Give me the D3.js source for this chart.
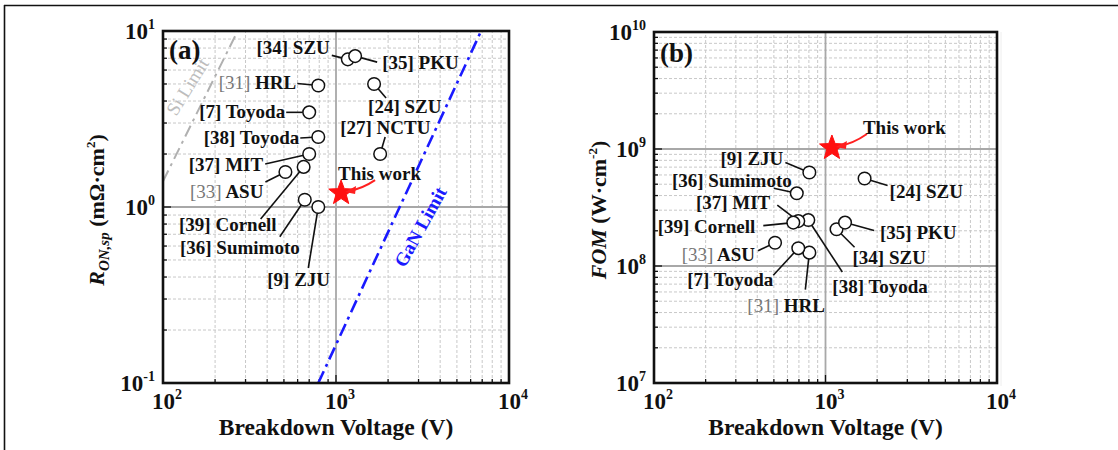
<!DOCTYPE html>
<html>
<head>
<meta charset="utf-8">
<script src="https://cdn.jsdelivr.net/npm/d3@7"></script>
<style>
  html, body { margin: 0; padding: 0; background: #fff; }
  svg { display: block; font-family: "Liberation Serif", "Times New Roman", serif; }
</style>
</head>
<body>
<svg id="chart" width="1118" height="450"></svg>
<script>
// ---- data: panel (a) specific on-resistance vs breakdown voltage ----
const refNumA = ["[34]", "[35]", "[31]", "[24]", "[7]", "[38]", "[27]", "[37]", "[33]", "[39]", "[36]", "[9]"];
const instA   = ["SZU", "PKU", "HRL", "SZU", "Toyoda", "Toyoda", "NCTU", "MIT", "ASU", "Cornell", "Sumimoto", "ZJU"];
const bvA     = [1170, 1290, 790, 1660, 700, 790, 1800, 700, 510, 650, 660, 790];
const ronA    = [6.9, 7.2, 4.9, 5.0, 3.45, 2.5, 2.0, 2.0, 1.58, 1.69, 1.1, 1.0];

// ---- data: panel (b) figure of merit vs breakdown voltage ----
const refNumB = ["[34]", "[35]", "[31]", "[24]", "[7]", "[38]", "[37]", "[33]", "[39]", "[36]", "[9]"];
const instB   = ["SZU", "PKU", "HRL", "SZU", "Toyoda", "Toyoda", "MIT", "ASU", "Cornell", "Sumimoto", "ZJU"];
const bvB     = [1160, 1300, 805, 1690, 694, 794, 694, 508, 649, 680, 805];
const fomB    = [2.06e8, 2.35e8, 1.30e8, 5.6e8, 1.42e8, 2.47e8, 2.42e8, 1.58e8, 2.35e8, 4.18e8, 6.3e8];

// ---- this work ----
const thisBV  = [1070, 1090];
const thisRon = [1.2];
const thisFOM = [1.02e9];

// ---- material limit lines (panel a) ----
const siLimitBV  = [100, 270];
const siLimitRon = [1.4, 10];
const ganLimitBV  = [790, 6900];
const ganLimitRon = [0.1, 10];

// ---- axis tick labels ----
const xTickExp  = [2, 3, 4];
const yTickExpA = [-1, 0, 1];
const yTickExpB = [7, 8, 9, 10];

// dimmed reference numbers
const dimRefs = ["[31]", "[33]"];

// label placement relative to each marker: text offset, anchor, leader start offset
const layoutA = [
  {tx: -18, ty: -11, a: "end",   lx: -16, ly: -4},
  {tx: 27,  ty: 7,   a: "start", lx: 22,  ly: 6},
  {tx: -22, ty: -3,  a: "end",   lx: -21, ly: -2},
  {tx: -6,  ty: 23,  a: "start", lx: 12,  ly: 14},
  {tx: -24, ty: 0,   a: "end",   lx: -23, ly: 0},
  {tx: -19, ty: 1,   a: "end",   lx: -18, ly: 1},
  {tx: -40, ty: -26, a: "start", lx: 5,   ly: -17},
  {tx: -46, ty: 11,  a: "end",   lx: -44, ly: 10},
  {tx: -22, ty: 20,  a: "end",   lx: -20, ly: 10},
  {tx: -27, ty: 58,  a: "end",   lx: -43, ly: 52},
  {tx: -5,  ty: 48,  a: "end",   lx: -25, ly: 37},
  {tx: -51, ty: 73,  a: "start", lx: -10, ly: 61}
];
const layoutB = [
  {tx: 16,  ty: 29,  a: "start", lx: 18,  ly: 18},
  {tx: 35,  ty: 10,  a: "start", lx: 29,  ly: 8},
  {tx: -62, ty: 53,  a: "start", lx: -4,  ly: 37},
  {tx: 25,  ty: 14,  a: "start", lx: 23,  ly: 7},
  {tx: -25, ty: 32,  a: "end",   lx: -25, ly: 27},
  {tx: 24,  ty: 67,  a: "start", lx: 34,  ly: 52},
  {tx: -28, ty: -18, a: "end",   lx: -21, ly: -16},
  {tx: -20, ty: 12,  a: "end",   lx: -17, ly: 8},
  {tx: -38, ty: 4,   a: "end",   lx: -30, ly: 3},
  {tx: -5,  ty: -12, a: "end",   lx: -23, ly: -5},
  {tx: -26, ty: -13, a: "end",   lx: -24, ly: -10}
];

const svg = d3.select("#chart");

// outer frame of the figure
svg.append("line").attr("x1", 4).attr("x2", 1118).attr("y1", 5.5).attr("y2", 5.5)
  .attr("stroke", "#111").attr("stroke-width", 1.6);
svg.append("line").attr("x1", 4.5).attr("x2", 4.5).attr("y1", 5).attr("y2", 450)
  .attr("stroke", "#111").attr("stroke-width", 1.6);
svg.append("line").attr("x1", 1001).attr("x2", 1001).attr("y1", 32).attr("y2", 386)
  .attr("stroke", "#eee").attr("stroke-width", 1);

function logTicks(lo, hi) {
  const out = [];
  for (let e = lo; e < hi; e++) for (let m = 2; m <= 9; m++) out.push(m * Math.pow(10, e));
  return out;
}

function powLabel(g, x, y, exp, anchor) {
  const t = g.append("text").attr("x", x).attr("y", y)
    .attr("text-anchor", anchor).attr("font-weight", "bold").attr("font-size", 23).attr("fill", "#111");
  t.append("tspan").text("10");
  t.append("tspan").attr("font-size", 14).attr("dy", -10).text(String(exp));
}

function panel(opts) {
  const {x, y, id, xExp, yExp, yLo, yHi} = opts;
  const g = svg.append("g");
  const [x0, x1] = x.range();
  const [y0, y1] = y.range();

  g.append("clipPath").attr("id", id).append("rect")
    .attr("x", x0).attr("y", y1).attr("width", x1 - x0).attr("height", y0 - y1);

  // minor grid
  const minorX = logTicks(2, 4);
  const minorY = logTicks(yLo, yHi);
  g.append("g").selectAll("line").data(minorX).join("line")
    .attr("x1", d => x(d)).attr("x2", d => x(d)).attr("y1", y0).attr("y2", y1)
    .attr("stroke", "#c8c8c8").attr("stroke-width", 1).attr("stroke-dasharray", "3,2");
  g.append("g").selectAll("line").data(minorY).join("line")
    .attr("x1", x0).attr("x2", x1).attr("y1", d => y(d)).attr("y2", d => y(d))
    .attr("stroke", "#c8c8c8").attr("stroke-width", 1).attr("stroke-dasharray", "3,2");

  // major grid
  const majX = xExp.slice(1, -1).map(e => Math.pow(10, e));
  const majY = yExp.slice(1, -1).map(e => Math.pow(10, e));
  g.append("g").selectAll("line").data(majX).join("line")
    .attr("x1", d => x(d)).attr("x2", d => x(d)).attr("y1", y0).attr("y2", y1)
    .attr("stroke", "#a8a8a8").attr("stroke-width", 1.8);
  g.append("g").selectAll("line").data(majY).join("line")
    .attr("x1", x0).attr("x2", x1).attr("y1", d => y(d)).attr("y2", d => y(d))
    .attr("stroke", "#a8a8a8").attr("stroke-width", 1.8);

  // inward ticks
  const tk = g.append("g").attr("stroke", "#111").attr("stroke-width", 1.3);
  tk.selectAll(".ty").data(minorY).join("line")
    .attr("x1", x0).attr("x2", x0 + 4).attr("y1", d => y(d)).attr("y2", d => y(d));
  tk.selectAll(".tx").data(minorX).join("line")
    .attr("y1", y0).attr("y2", y0 - 4).attr("x1", d => x(d)).attr("x2", d => x(d));
  tk.selectAll(".tyM").data(majY).join("line")
    .attr("x1", x0).attr("x2", x0 + 8).attr("y1", d => y(d)).attr("y2", d => y(d));
  tk.selectAll(".txM").data(majX).join("line")
    .attr("y1", y0).attr("y2", y0 - 8).attr("x1", d => x(d)).attr("x2", d => x(d));

  // tick labels
  xExp.forEach(e => powLabel(g, x(Math.pow(10, e)) + 4, y0 + 26, e, "middle"));
  yExp.forEach(e => powLabel(g, x0 - 8, y(Math.pow(10, e)) + 8, e, "end"));

  // x title
  g.append("text").attr("x", (x0 + x1) / 2).attr("y", y0 + 52)
    .attr("text-anchor", "middle").attr("font-weight", "bold").attr("font-size", 23.5)
    .attr("fill", "#111").text("Breakdown Voltage (V)");

  return g;
}

function frame(g, x, y) {
  const [x0, x1] = x.range();
  const [y0, y1] = y.range();
  g.append("rect").attr("x", x0).attr("y", y1).attr("width", x1 - x0).attr("height", y0 - y1)
    .attr("fill", "none").attr("stroke", "#111").attr("stroke-width", 2.6);
}

function refLabels(g, x, y, bv, val, nums, names, layout) {
  const pts = bv.map((b, i) => ({px: x(b), py: y(val[i]), num: nums[i], name: names[i], L: layout[i]}));
  g.append("g").selectAll("line").data(pts).join("line")
    .attr("x1", d => d.px + d.L.lx).attr("y1", d => d.py + d.L.ly)
    .attr("x2", d => d.px).attr("y2", d => d.py)
    .attr("stroke", "#111").attr("stroke-width", 1.6);
  g.append("g").selectAll("circle").data(pts).join("circle")
    .attr("cx", d => d.px).attr("cy", d => d.py).attr("r", 6.3)
    .attr("fill", "#fff").attr("stroke", "#111").attr("stroke-width", 1.5);
  const t = g.append("g").selectAll("text").data(pts).join("text")
    .attr("x", d => d.px + d.L.tx).attr("y", d => d.py + d.L.ty + 6)
    .attr("text-anchor", d => d.L.a).attr("font-size", 19).attr("font-weight", "bold").attr("fill", "#111");
  t.append("tspan")
    .attr("fill", d => dimRefs.includes(d.num) ? "#777" : "#111")
    .attr("font-weight", d => dimRefs.includes(d.num) ? "normal" : "bold")
    .text(d => d.num);
  t.append("tspan").text(d => " " + d.name);
}

function star(g, cx, cy, R) {
  const pts = [];
  for (let i = 0; i < 10; i++) {
    const r = i % 2 === 0 ? R : R * 0.42;
    const a = -Math.PI / 2 + i * Math.PI / 5;
    pts.push([cx + r * Math.cos(a), cy + r * Math.sin(a)]);
  }
  g.append("path").attr("d", d3.line()(pts) + "Z").attr("fill", "#ff1010").attr("stroke", "#ff1010")
    .attr("stroke-width", 1);
}

function thisWork(g, px, py, tx, ty, ax, ay) {
  star(g, px, py, 13);
  // tapered pointer from the label toward the star
  const p = d3.path();
  p.moveTo(px + ax, py + ay);
  p.quadraticCurveTo(px + ax * 0.6, py + ay * 0.3, px + 7, py - 2);
  g.append("path").attr("d", p.toString()).attr("fill", "none")
    .attr("stroke", "#ff2020").attr("stroke-width", 2);
  g.append("path")
    .attr("d", `M${px + 4},${py - 1} L${px + 15},${py - 7} L${px + 14},${py + 1} Z`)
    .attr("fill", "#ff2020");
  g.append("text").attr("x", px + tx).attr("y", py + ty + 7)
    .attr("font-size", 19).attr("font-weight", "bold").attr("fill", "#111").text("This work");
}

// ================= panel (a) =================
const xA = d3.scaleLog().domain([100, 10000]).range([163, 509]);
const yA = d3.scaleLog().domain([0.1, 10]).range([383, 31]);
const gA = panel({x: xA, y: yA, id: "clipA", xExp: xTickExp, yExp: yTickExpA, yLo: -1, yHi: 1});

const limits = gA.append("g").attr("clip-path", "url(#clipA)");
const lineA = d3.line().x(d => xA(d[0])).y(d => yA(d[1]));
limits.append("path").attr("d", lineA(d3.zip(siLimitBV, siLimitRon)))
  .attr("fill", "none").attr("stroke", "#b0b0b0").attr("stroke-width", 2)
  .attr("stroke-dasharray", "12,5,3,5");
limits.append("path").attr("d", lineA(d3.zip(ganLimitBV, ganLimitRon)))
  .attr("fill", "none").attr("stroke", "#1a1aff").attr("stroke-width", 2.6)
  .attr("stroke-dasharray", "13,5,3,5");

gA.append("text").attr("transform", "translate(193,90) rotate(-58)")
  .attr("text-anchor", "middle").attr("font-size", 19).attr("fill", "#bdbdbd").text("Si Limit");
gA.append("text").attr("transform", "translate(426,230) rotate(-61)")
  .attr("text-anchor", "middle").attr("font-size", 19).attr("font-weight", "bold")
  .attr("fill", "#1a1aff").text("GaN Limit");

refLabels(gA, xA, yA, bvA, ronA, refNumA, instA, layoutA);
thisWork(gA, xA(thisBV[0]), yA(thisRon[0]), -3, -20, 34, -13);
frame(gA, xA, yA);
gA.append("text").attr("x", 169).attr("y", 59).attr("font-size", 27).attr("font-weight", "bold")
  .attr("fill", "#111").text("(a)");

// y title (a)
const tA = gA.append("text").attr("transform", "translate(104,210) rotate(-90)")
  .attr("text-anchor", "middle").attr("font-size", 22).attr("font-weight", "bold").attr("fill", "#111");
tA.append("tspan").attr("font-style", "italic").text("R");
tA.append("tspan").attr("font-style", "italic").attr("font-size", 15).attr("dy", 5).text("ON,sp");
tA.append("tspan").attr("dy", -5).text(" (mΩ·cm");
tA.append("tspan").attr("font-size", 13).attr("dy", -9).text("2");
tA.append("tspan").attr("dy", 9).text(")");

// ================= panel (b) =================
const xB = d3.scaleLog().domain([100, 10000]).range([654, 997]);
const yB = d3.scaleLog().domain([1e7, 1e10]).range([383, 32]);
const gB = panel({x: xB, y: yB, id: "clipB", xExp: xTickExp, yExp: yTickExpB, yLo: 7, yHi: 10});

refLabels(gB, xB, yB, bvB, fomB, refNumB, instB, layoutB);
thisWork(gB, xB(thisBV[1]), yB(thisFOM[0]), 31, -21, 35, -14);
frame(gB, xB, yB);
gB.append("text").attr("x", 660).attr("y", 62).attr("font-size", 27).attr("font-weight", "bold")
  .attr("fill", "#111").text("(b)");

// y title (b)
const tB = gB.append("text").attr("transform", "translate(606,210) rotate(-90)")
  .attr("text-anchor", "middle").attr("font-size", 22).attr("font-weight", "bold").attr("fill", "#111");
tB.append("tspan").attr("font-style", "italic").text("FOM");
tB.append("tspan").text(" (W·cm");
tB.append("tspan").attr("font-size", 13).attr("dy", -9).text("-2");
tB.append("tspan").attr("dy", 9).text(")");
</script>
</body>
</html>
